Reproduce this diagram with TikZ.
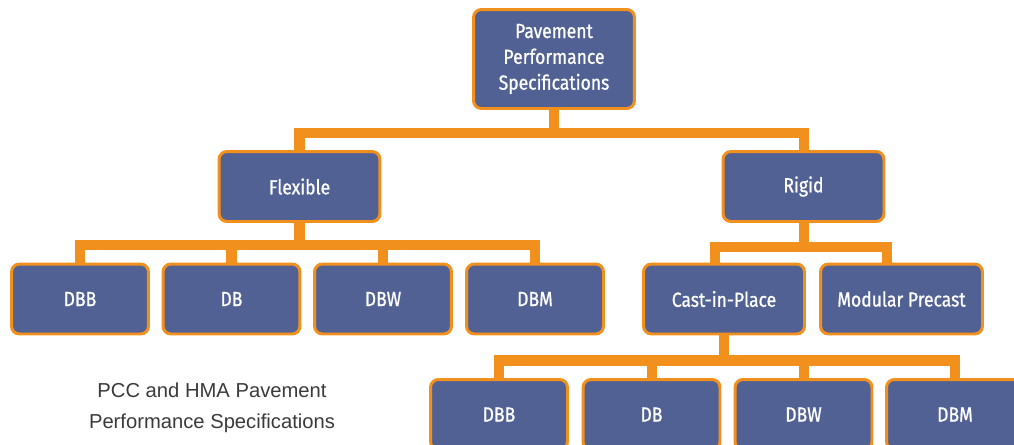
\documentclass[tikz,border=0pt]{standalone}
\usepackage{fontspec}
\setsansfont{Fira Sans}[FakeStretch=0.86,FakeBold=0.9]
\newfontfamily\captionfont{Liberation Sans}
\definecolor{boxblue}{RGB}{82,97,148}
\definecolor{linkorange}{RGB}{242,144,30}
\definecolor{captiongrey}{RGB}{58,58,58}
\usetikzlibrary{positioning,calc}

\begin{document}
\begin{tikzpicture}[
      x=0.02cm,y=-0.02cm,
      box/.style={draw=linkorange,line width=1.7pt,rounded corners=4.5pt,
                  fill=boxblue,text=white,align=center,inner sep=0pt,
                  minimum width=3.22cm,minimum height=1.4cm,
                  font=\sffamily\fontsize{11.6}{14.7}\selectfont},
      leaf/.style={box,minimum width=2.74cm},
      link/.style={draw=linkorange,line width=5.7pt}]
    \useasboundingbox (0,0) rectangle (1014,444);
    % top of the tree
    \node[box,minimum height=1.98cm] (pps) at (554,59)
        {Pavement\\Performance\\Specifications};
    \node[box] (flex) at (299.5,186.5) {Flexible};
    \node[box] (rigid) at (803.5,186.5) {Rigid};
    % flexible pavements
    \node[leaf] (fdbb) at (80,299) {DBB};
    \node[leaf] (fdb) at (231.5,299) {DB};
    \node[leaf] (fdbw) at (383,299) {DBW};
    \node[leaf] (fdbm) at (535,299) {DBM};
    % rigid pavements
    \node[box] (cip) at (724,299) {Cast-in-Place};
    \node[box,minimum width=3.24cm] (mp) at (901.5,299) {Modular Precast};
    \node[leaf] (rdbb) at (499,414.5) {DBB};
    \node[leaf] (rdb) at (651.5,414.5) {DB};
    \node[leaf] (rdbw) at (803.5,414.5) {DBW};
    \node[leaf] (rdbm) at (955,414.5) {DBM};
    \node[font=\captionfont\fontsize{11.5}{17.5}\selectfont,text=captiongrey,
          align=center] (cap) at (212,408)
        {PCC and HMA Pavement\\Performance Specifications};
    % connectors
    \draw[link] (pps.south) -- ++(0,23) -| (flex.north);
    \draw[link] (pps.south) -- ++(0,23) -| (rigid.north);
    \foreach \n in {fdbb,fdb,fdbw,fdbm}
      \draw[link] (flex.south) -- ++(0,22) -| (\n.north);
    \draw[link] (rigid.south) -- ++(0,24) -| ([xshift=-5]cip.north);
    \draw[link] (rigid.south) -- ++(0,24) -| ([xshift=-8]mp.north);
    \foreach \n in {rdbb,rdb,rdbw,rdbm}
      \draw[link] (cip.south) -- ++(0,25) -| (\n.north);
  \end{tikzpicture}
\end{document}
